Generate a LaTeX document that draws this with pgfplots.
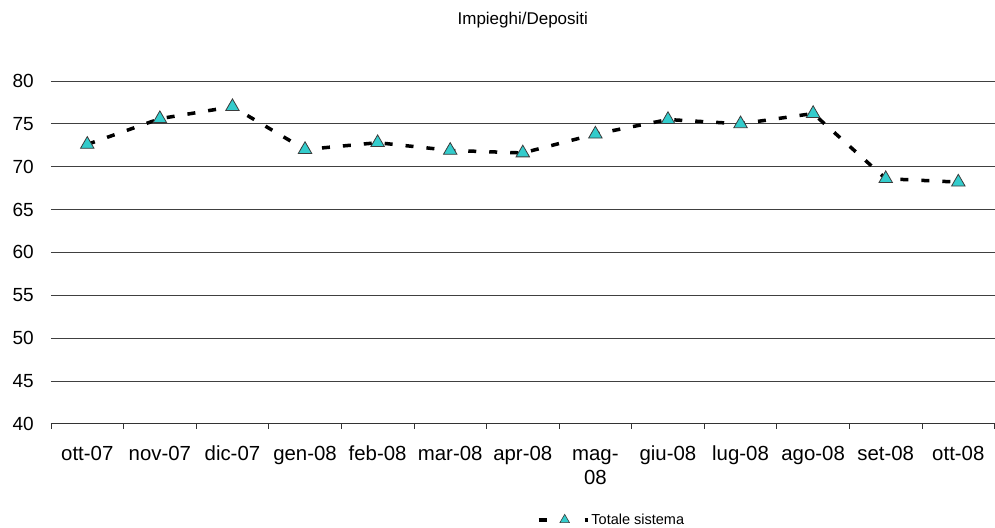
\documentclass[border=0pt]{standalone}
\usepackage{fontspec}
\setmainfont{Liberation Sans}
\usepackage{pgfplots}
\pgfplotsset{compat=1.18}
\definecolor{tri}{RGB}{51,204,204}
\definecolor{triedge}{RGB}{60,60,60}
\begin{document}
\begin{tikzpicture}
  \begin{axis}[
    at={(0pt,0pt)}, anchor=south west,
    scale only axis,
    width=944pt, height=343pt,
    xmin=-0.5, xmax=12.5,
    ymin=40, ymax=80,
    ytick distance=5,
    /pgf/number format/assume math mode=true,
    xtick={0,...,12},
    xticklabels={ott-07,nov-07,dic-07,gen-08,feb-08,mar-08,apr-08,
      {\begin{tabular}[t]{@{}c@{}}mag-\\08\end{tabular}},
      giu-08,lug-08,ago-08,set-08,ott-08},
    minor xtick={-0.5,0.5,...,12.5},
    major tick length=0pt,
    minor tick length=5pt,
    tick align=outside,
    xtick pos=bottom,
    axis x line*=bottom,
    axis y line*=left,
    y axis line style={draw=none},
    x axis line style={black!80, line width=0.8pt, -},
    minor tick style={black!80, line width=0.8pt},
    ytick style={draw=none},
    ymajorgrids,
    grid style={black!75, line width=0.8pt},
    yticklabel style={font=\fontsize{19}{24}\selectfont, anchor=east, inner sep=0pt, xshift=-17pt},
    xticklabel style={font=\fontsize{20.4}{24}\selectfont, anchor=base, inner sep=0pt, yshift=-37pt},
    clip=false,
    legend style={
      at={(rel axis cs:0.5148,-0.28)}, anchor=west,
      draw=none, fill=none, inner sep=0pt,
      font=\fontsize{14.5}{16}\selectfont,
      /tikz/every even column/.append style={column sep=0pt},
    },
    legend image code/.code={
      \draw[black, line width=3.5pt] (0pt,0pt) -- (8pt,0pt);
      \draw[black, line width=3.5pt] (46pt,0pt) -- (49pt,0pt);
      \draw[mark=triangle*, mark size=5.5pt, mark options={fill=tri, draw=triedge, line width=0.6pt, solid}]
        plot coordinates {(26pt,0pt)};
    },
  ]
    \addplot[black, line width=3.5pt, dash pattern=on 8pt off 13pt,
      mark=triangle*, mark size=7.8pt,
      mark options={fill=tri, draw=triedge, line width=0.8pt, solid}]
      coordinates {
        (0,72.6) (1,75.6) (2,77.0) (3,72.0) (4,72.8) (5,71.9) (6,71.6)
        (7,73.8) (8,75.5) (9,75.0) (10,76.2) (11,68.6) (12,68.2)
      };
    \addlegendentry{Totale sistema}
    \node[font=\fontsize{17}{19}\selectfont] at (rel axis cs:0.5,1.178) {Impieghi/Depositi};
  \end{axis}
  \path (-51pt,-104pt) rectangle (944pt,424pt);
\end{tikzpicture}
\end{document}
